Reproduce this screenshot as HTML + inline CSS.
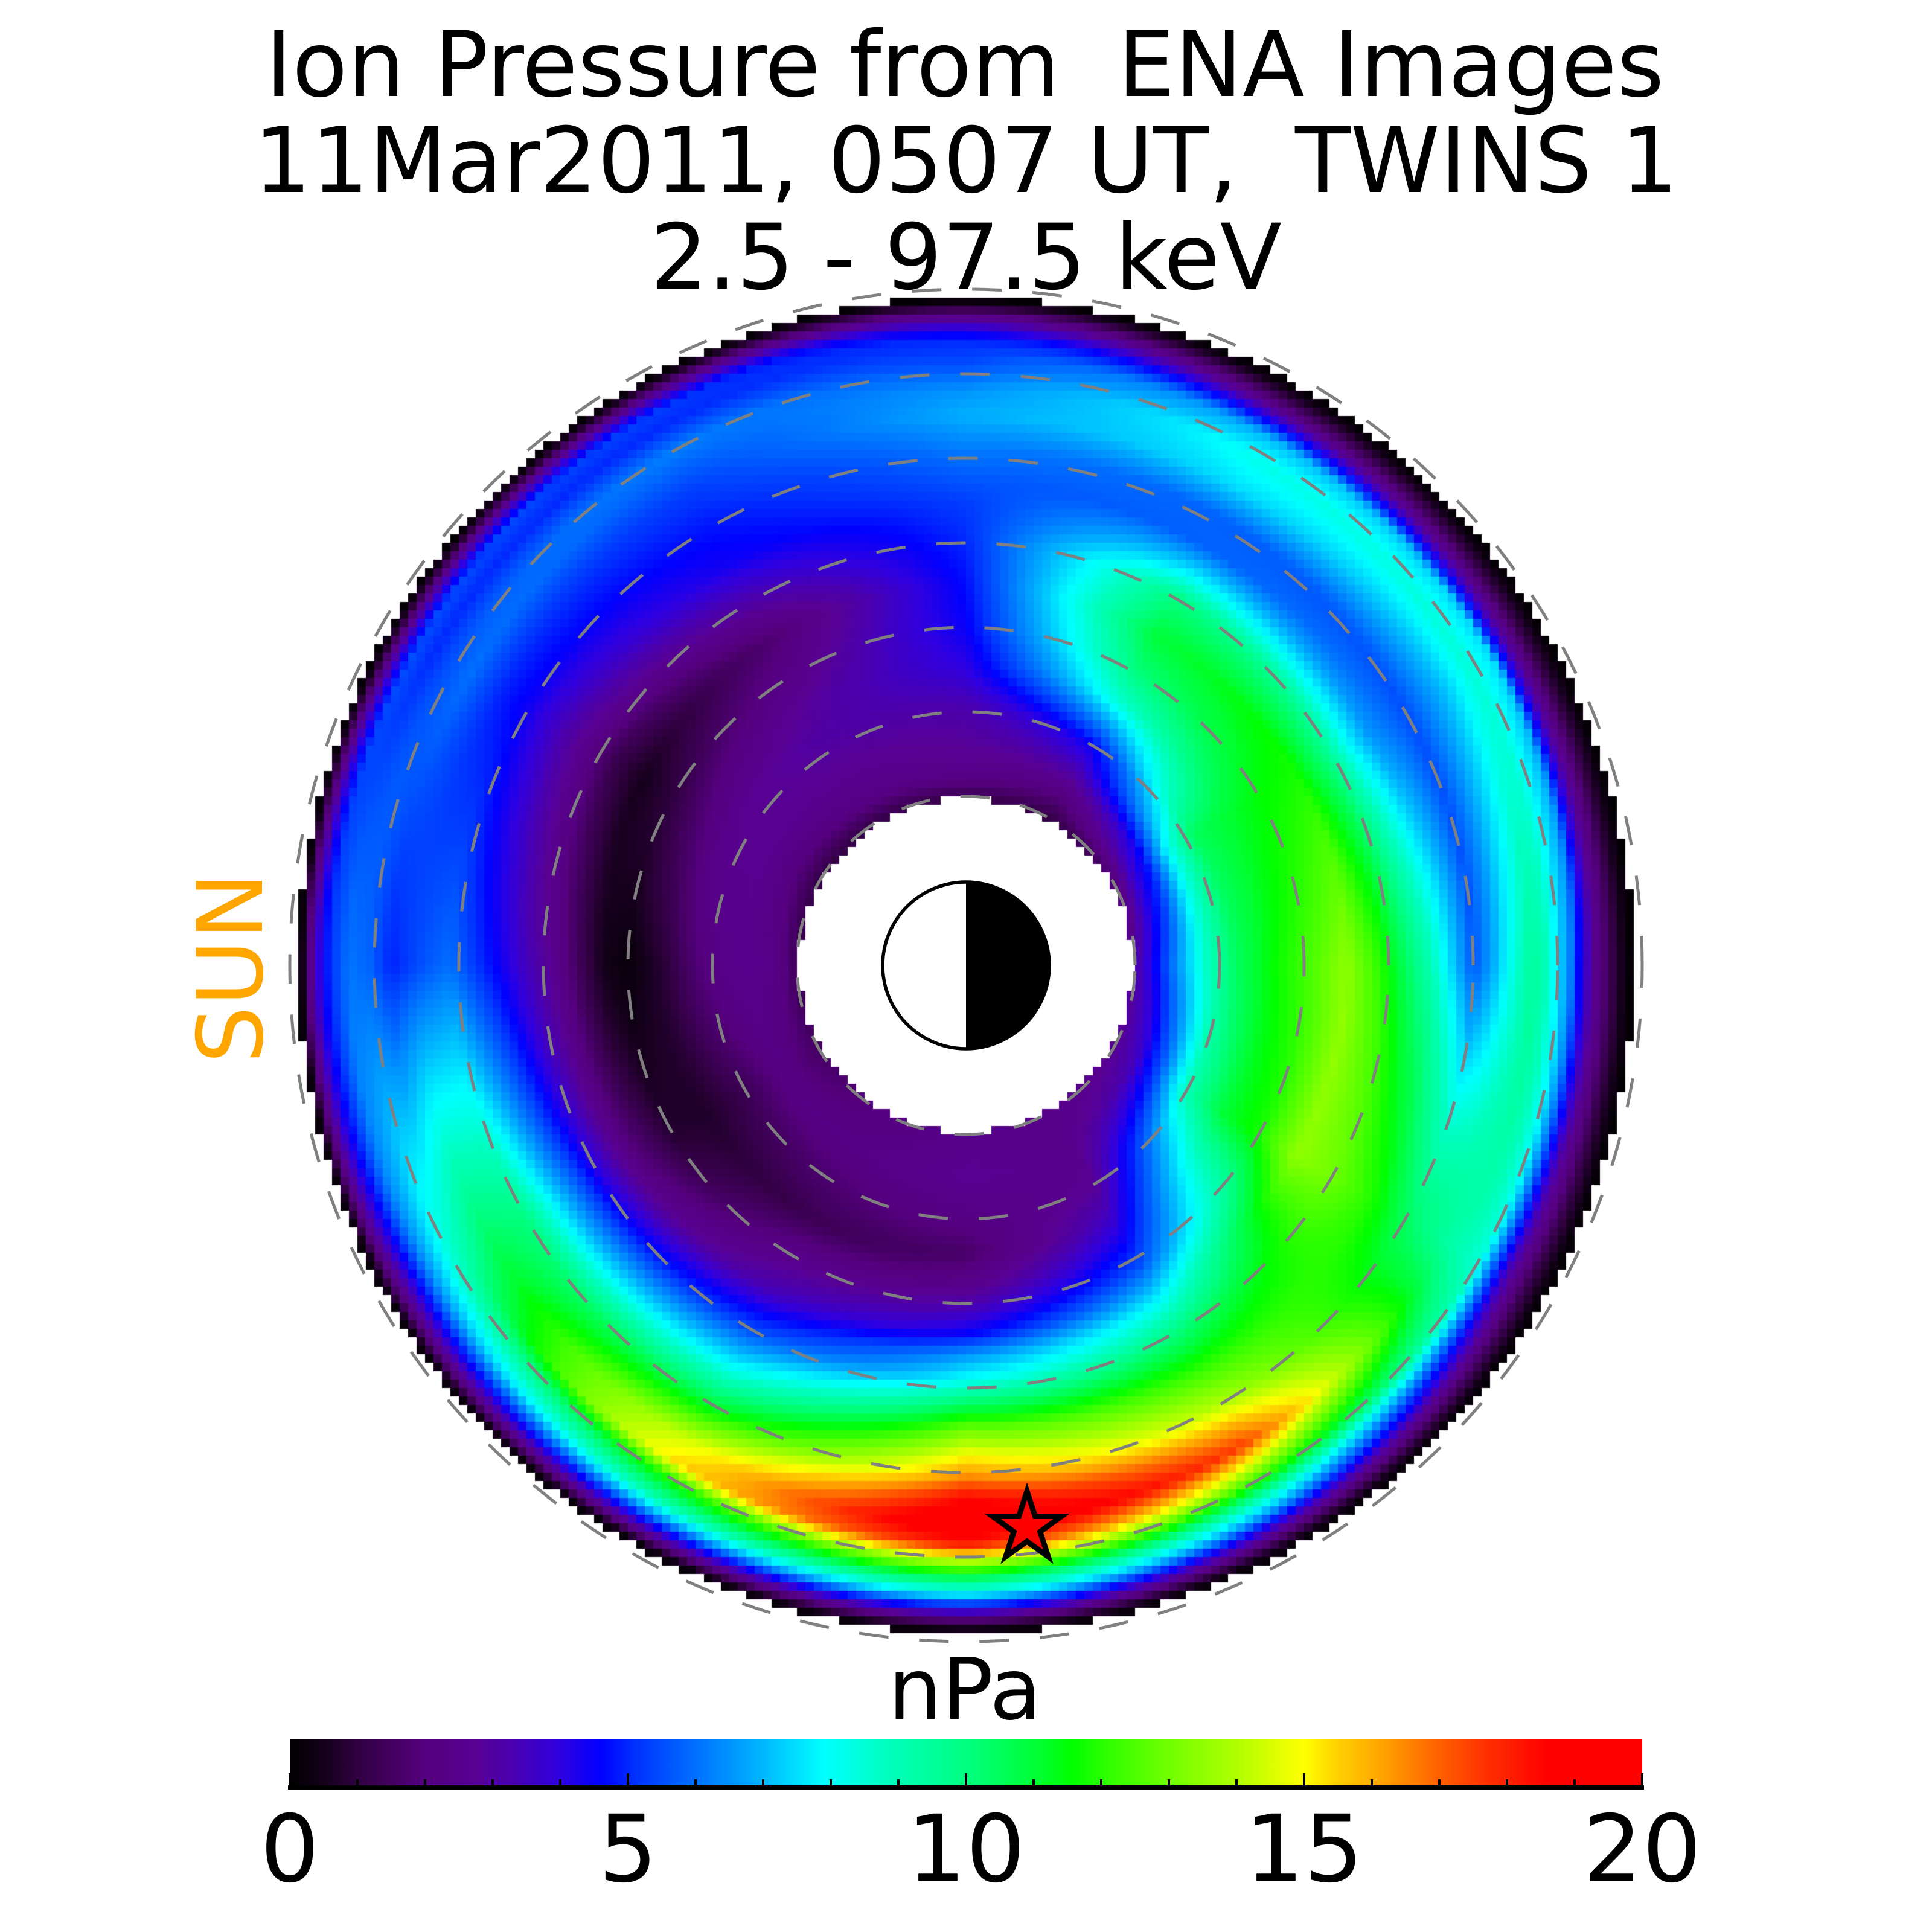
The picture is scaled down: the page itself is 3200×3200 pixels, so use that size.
<!DOCTYPE html>
<html><head><meta charset="utf-8">
<style>
html,body{margin:0;padding:0;background:#fff;}
#wrap{position:relative;width:3200px;height:3200px;overflow:hidden;background:#fff;}
#fb{position:absolute;left:480px;top:479px;width:2240px;height:2240px;border-radius:50%;
background:radial-gradient(circle closest-side,#fff 0,#fff 25%,#3a0060 26%,#200030 45%,#0040ff 62%,#00e0c0 75%,#60ff00 84%,#00a0ff 92%,#300050 98%,rgba(255,255,255,0) 99%);}
#cv{position:absolute;left:480px;top:479px;}
svg{position:absolute;left:0;top:0;}
</style></head>
<body><div id="wrap">
<div id="fb"></div>
<canvas id="cv" width="2240" height="2240"></canvas>
<svg width="3200" height="3200" viewBox="0 0 3200 3200" xmlns="http://www.w3.org/2000/svg" font-family="'DejaVu Sans','Liberation Sans',sans-serif">
<defs>
<linearGradient id="cb" x1="480" y1="0" x2="2720" y2="0" gradientUnits="userSpaceOnUse">
<stop offset="0" stop-color="rgb(0,0,0)"/>
<stop offset="0.025" stop-color="rgb(20,0,26)"/>
<stop offset="0.05" stop-color="rgb(48,0,64)"/>
<stop offset="0.1" stop-color="rgb(85,0,127)"/>
<stop offset="0.135" stop-color="rgb(88,0,145)"/>
<stop offset="0.165" stop-color="rgb(74,0,176)"/>
<stop offset="0.2" stop-color="rgb(48,0,224)"/>
<stop offset="0.23" stop-color="rgb(0,0,255)"/>
<stop offset="0.255" stop-color="rgb(0,48,255)"/>
<stop offset="0.3" stop-color="rgb(0,112,255)"/>
<stop offset="0.345" stop-color="rgb(0,176,255)"/>
<stop offset="0.395" stop-color="rgb(0,255,255)"/>
<stop offset="0.44" stop-color="rgb(0,255,192)"/>
<stop offset="0.5" stop-color="rgb(0,255,128)"/>
<stop offset="0.555" stop-color="rgb(0,255,48)"/>
<stop offset="0.5775" stop-color="rgb(0,255,0)"/>
<stop offset="0.615" stop-color="rgb(64,255,0)"/>
<stop offset="0.65" stop-color="rgb(112,255,0)"/>
<stop offset="0.7" stop-color="rgb(176,255,0)"/>
<stop offset="0.75" stop-color="rgb(255,255,0)"/>
<stop offset="0.775" stop-color="rgb(255,208,0)"/>
<stop offset="0.81" stop-color="rgb(255,160,0)"/>
<stop offset="0.85" stop-color="rgb(255,96,0)"/>
<stop offset="0.885" stop-color="rgb(255,48,0)"/>
<stop offset="0.93" stop-color="rgb(255,0,0)"/>
<stop offset="1" stop-color="rgb(255,0,0)"/>
</linearGradient>
</defs>

<!-- Title -->
<g font-size="150" text-anchor="middle" fill="#000" style="white-space:pre">
<text x="1598" y="159" xml:space="preserve">Ion Pressure from  ENA Images</text>
<text x="1600" y="318" xml:space="preserve">11Mar2011, 0507 UT,  TWINS 1</text>
<text x="1600" y="478" xml:space="preserve">2.5 - 97.5 keV</text>
</g>

<!-- SUN label -->
<text transform="translate(434,1603) rotate(-90)" font-size="150" fill="#FFA500" text-anchor="middle">SUN</text>

<!-- dashed L-shell circles -->
<g transform="translate(1600,1599) scale(1,-1)" fill="none" stroke="#808080" stroke-width="5" stroke-dasharray="49 51">
<circle cx="0" cy="0" r="280"/>
<circle cx="0" cy="0" r="420"/>
<circle cx="0" cy="0" r="560"/>
<circle cx="0" cy="0" r="700"/>
<circle cx="0" cy="0" r="840"/>
<circle cx="0" cy="0" r="980"/>
<circle cx="0" cy="0" r="1120"/>
</g>

<!-- Earth -->
<circle cx="1600" cy="1599" r="138" fill="#fff" stroke="#000" stroke-width="5.5"/>
<path d="M1600,1461 A138,138 0 0 1 1600,1737 Z" fill="#000"/>

<!-- Star -->
<path transform="translate(1701,2530)" d="M0,-60 L13.47,-18.54 L57.06,-18.54 L21.8,7.08 L35.27,48.54 L0,22.92 L-35.27,48.54 L-21.8,7.08 L-57.06,-18.54 L-13.47,-18.54 Z" fill="#ff0000" stroke="#000" stroke-width="9" stroke-linejoin="miter"/>

<!-- colorbar -->
<text x="1598" y="2847" font-size="141" text-anchor="middle" fill="#000">nPa</text>
<rect x="480" y="2880" width="2240" height="78" fill="url(#cb)"/>
<rect x="477" y="2957" width="2246" height="7" fill="#000"/>
<g stroke="#000" stroke-width="4">
<line x1="480" y1="2937" x2="480" y2="2958"/>
<line x1="592" y1="2947" x2="592" y2="2958"/>
<line x1="704" y1="2947" x2="704" y2="2958"/>
<line x1="816" y1="2947" x2="816" y2="2958"/>
<line x1="928" y1="2947" x2="928" y2="2958"/>
<line x1="1040" y1="2937" x2="1040" y2="2958"/>
<line x1="1152" y1="2947" x2="1152" y2="2958"/>
<line x1="1264" y1="2947" x2="1264" y2="2958"/>
<line x1="1376" y1="2947" x2="1376" y2="2958"/>
<line x1="1488" y1="2947" x2="1488" y2="2958"/>
<line x1="1600" y1="2937" x2="1600" y2="2958"/>
<line x1="1712" y1="2947" x2="1712" y2="2958"/>
<line x1="1824" y1="2947" x2="1824" y2="2958"/>
<line x1="1936" y1="2947" x2="1936" y2="2958"/>
<line x1="2048" y1="2947" x2="2048" y2="2958"/>
<line x1="2160" y1="2937" x2="2160" y2="2958"/>
<line x1="2272" y1="2947" x2="2272" y2="2958"/>
<line x1="2384" y1="2947" x2="2384" y2="2958"/>
<line x1="2496" y1="2947" x2="2496" y2="2958"/>
<line x1="2608" y1="2947" x2="2608" y2="2958"/>
<line x1="2720" y1="2937" x2="2720" y2="2958"/>
</g>
<g font-size="154" text-anchor="middle" fill="#000">
<text x="480" y="3116">0</text>
<text x="1040" y="3116">5</text>
<text x="1600" y="3116">10</text>
<text x="2160" y="3116">15</text>
<text x="2720" y="3116">20</text>
</g>
</svg>
</div>
<script>
(function(){
var P=[
/*0*/[[1.95,2.8],[2.2,4.3],[2.5,6.5],[2.8,8.5],[3.2,10.5],[3.6,11.5],[4.1,12.5],[4.5,13.5],[4.9,12],[5.2,10.5],[5.5,9],[5.8,7.0],[6.0,5.6],[6.2,6.6],[6.4,7.9],[6.7,9.6],[6.85,9],[7.0,7.5],[7.15,6.2],[7.25,4.6],[7.35,3.5],[7.45,2.5],[7.55,1.8],[7.65,1.1],[7.76,0.5],[7.86,0.1]],
/*30*/[[1.95,2.6],[2.3,3.5],[2.6,5.5],[3.0,9],[3.5,11],[4.0,11.8],[4.5,13.5],[5.0,13],[5.5,12],[6.0,10.5],[6.5,9.5],[7.0,8.5],[7.2,5.5],[7.35,3.5],[7.5,2.3],[7.65,1.2],[7.86,0.1]],
/*60*/[[1.95,2.4],[2.5,2.5],[3.0,2.7],[3.5,3.8],[3.8,4.6],[4.1,5.5],[4.4,7],[4.7,8.5],[5.0,10],[5.5,12],[6.0,14],[6.3,16],[6.55,17.5],[6.8,14.5],[7.0,12],[7.2,9],[7.4,6.5],[7.55,4],[7.68,2.2],[7.78,1.0],[7.86,0.2]],
/*90*/[[1.95,2.4],[2.5,2.7],[3.0,2.2],[3.4,1.6],[3.8,2.5],[4.1,3.5],[4.35,4.5],[4.6,6.5],[4.9,8],[5.2,10.5],[5.5,13],[5.8,15],[6.05,16.5],[6.3,18.5],[6.6,20],[6.85,18],[7.05,14],[7.25,10.5],[7.45,7.5],[7.6,4.5],[7.72,2.3],[7.8,1.0],[7.88,0.2]],
/*120*/[[1.95,2.0],[2.5,2.3],[3.0,1.8],[3.5,1.3],[4.0,2.5],[4.5,3.5],[5.0,5.5],[5.5,8],[6.0,11],[6.5,14.5],[6.8,15.5],[7.0,12],[7.3,9],[7.5,6],[7.65,3.5],[7.75,2],[7.86,0.2]],
/*150*/[[1.95,1.5],[2.5,2.2],[3.0,1.3],[3.5,0.7],[4.0,0.8],[4.5,2.0],[5.0,4.2],[5.5,7],[6.0,10],[6.5,10.5],[7.0,8.5],[7.3,6.5],[7.5,4.5],[7.65,3],[7.76,1.8],[7.87,0.2]],
/*180*/[[1.95,1.2],[2.2,2.2],[2.5,2.6],[2.9,2.4],[3.2,1.8],[3.6,0.8],[4.0,0.2],[4.3,0.5],[4.6,1.5],[4.9,2.7],[5.2,3.5],[5.5,4.4],[5.8,5.2],[6.1,6.0],[6.4,5.6],[6.8,4.9],[7.05,5.8],[7.3,6.1],[7.5,5.2],[7.6,4.6],[7.68,3.7],[7.77,2.2],[7.86,0.3],[7.95,0]],
/*210*/[[1.95,1.0],[2.3,2.0],[2.7,2.7],[3.2,2.6],[3.6,1.8],[4.0,1.0],[4.4,0.5],[4.8,1.2],[5.2,2.5],[5.6,3.5],[6.0,4.4],[6.4,5.0],[6.8,6.0],[7.1,5.5],[7.3,5.0],[7.5,5.5],[7.62,4],[7.72,2.4],[7.8,1],[7.88,0.1]],
/*240*/[[1.95,1.0],[2.3,2.3],[2.7,2.7],[3.2,3.1],[3.6,2.9],[4.0,2.4],[4.5,1.8],[5.0,3.2],[5.5,4.4],[6.0,4.8],[6.5,5.3],[7.0,6.2],[7.3,5.0],[7.5,5.3],[7.62,3.8],[7.72,2.3],[7.8,1],[7.88,0.1]],
/*270*/[[1.95,1.2],[2.3,2.5],[2.7,2.9],[3.1,3.3],[3.5,4.0],[4.0,4.5],[4.5,4.7],[5.0,5.0],[5.5,5.3],[6.0,6.0],[6.5,6.9],[6.8,6.5],[7.1,5.5],[7.4,5.0],[7.55,3.8],[7.68,2.3],[7.78,1],[7.87,0.1]],
/*300*/[[1.95,1.0],[2.3,2.0],[2.7,3.5],[3.0,4.5],[3.3,6.5],[3.6,8.5],[4.0,10],[4.5,11],[5.0,10],[5.3,8],[5.7,5.8],[6.1,5.8],[6.5,7.5],[6.9,8.2],[7.2,7],[7.35,4.8],[7.5,3],[7.62,1.8],[7.75,0.8],[7.86,0.1]],
/*330*/[[1.95,1.5],[2.2,3.5],[2.45,4.8],[2.75,8],[3.1,10.5],[3.5,11],[4.0,11.5],[4.5,11.8],[4.9,10],[5.2,8],[5.5,6.5],[6.0,5.5],[6.5,7],[6.9,8.5],[7.2,7.5],[7.3,5],[7.42,3.3],[7.55,2],[7.68,1],[7.86,0.1]]
];
var C=[[0,0,0,0],[0.5,20,0,26],[1,48,0,64],[2,85,0,127],[2.7,88,0,145],[3.3,74,0,176],[4,48,0,224],[4.6,0,0,255],[5.1,0,48,255],[6,0,112,255],[6.9,0,176,255],[7.9,0,255,255],[8.8,0,255,192],[10,0,255,128],[11.1,0,255,48],[11.55,0,255,0],[12.3,64,255,0],[13,112,255,0],[14,176,255,0],[15,255,255,0],[15.5,255,208,0],[16.2,255,160,0],[17,255,96,0],[17.7,255,48,0],[18.6,255,0,0],[20,255,0,0]];
function prof(p,r){
  if(r<=p[0][0])return p[0][1];
  for(var i=1;i<p.length;i++){
    if(r<=p[i][0]){var t=(r-p[i-1][0])/(p[i][0]-p[i-1][0]);return p[i-1][1]+t*(p[i][1]-p[i-1][1]);}
  }
  return p[p.length-1][1];
}
function val(r,phi){
  var k=Math.floor(phi/30)%12;var t=(phi-k*30)/30;var k2=(k+1)%12;
  return prof(P[k],r)*(1-t)+prof(P[k2],r)*t;
}
function col(v){
  if(v<=0)return 'rgb(0,0,0)';
  if(v>=20)return 'rgb(255,0,0)';
  for(var i=1;i<C.length;i++){
    if(v<=C[i][0]){var a=C[i-1],b=C[i];var t=(v-a[0])/(b[0]-a[0]);
      return 'rgb('+Math.round(a[1]+t*(b[1]-a[1]))+','+Math.round(a[2]+t*(b[2]-a[2]))+','+Math.round(a[3]+t*(b[3]-a[3]))+')';}
  }
  return 'rgb(255,0,0)';
}
var cv=document.getElementById('cv');
var ctx=cv.getContext('2d');
if(!ctx)return;
document.getElementById('fb').style.display='none';
var S=14;
for(var j=0;j<160;j++){
  for(var i=0;i<160;i++){
    var cx=480+S*i+7,cy=479+S*j+7;
    var dx=cx-1600,dy=cy-1599;
    var r=Math.sqrt(dx*dx+dy*dy)/140;
    if(r<1.97||r>7.9)continue;
    var phi=Math.atan2(dy,dx)*180/Math.PI;if(phi<0)phi+=360;
    ctx.fillStyle=col(val(r,phi));
    ctx.fillRect(S*i,S*j,S,S);
  }
}
})();
</script>
</body></html>
